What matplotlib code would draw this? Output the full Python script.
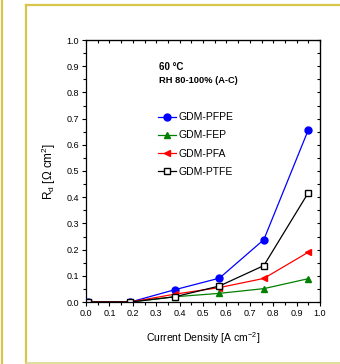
import matplotlib
matplotlib.use("Agg")
import matplotlib.pyplot as plt
from matplotlib.lines import Line2D
from matplotlib.ticker import MultipleLocator

plt.rcParams['font.family'] = ['Liberation Sans', 'DejaVu Sans']
plt.rcParams['mathtext.fontset'] = 'custom'
plt.rcParams['mathtext.rm'] = 'Liberation Sans'

# current density [A cm^-2]
current = [0.01, 0.19, 0.38, 0.57, 0.76, 0.95]

# resistance values
rd_pfpe = [0.0, 0.0, 0.047, 0.091, 0.238, 0.657]
rd_fep = [0.0, 0.0, 0.020, 0.033, 0.051, 0.089]
rd_pfa = [0.0, 0.0, 0.030, 0.055, 0.090, 0.190]
rd_ptfe = [0.0, 0.0, 0.020, 0.061, 0.139, 0.417]

W, H = 340, 364
fig = plt.figure(figsize=(W / 100, H / 100), dpi=100)
ax = fig.add_axes([86 / W, 1 - 302 / H, 234 / W, 262 / H])

ax.plot(current, rd_pfpe, '-o', color='blue', lw=0.9, ms=5, label='GDM-PFPE')
ax.plot(current, rd_fep, '-^', color='green', lw=0.9, ms=5, label='GDM-FEP')
ax.plot(current, rd_pfa, '-<', color='red', lw=0.9, ms=5, label='GDM-PFA')
ax.plot(current, rd_ptfe, '-s', color='black', lw=0.9, ms=5, mfc='white', label='GDM-PTFE')

ax.set_xlim(0, 1.0)
ax.set_ylim(0, 1.0)
ax.xaxis.set_major_locator(MultipleLocator(0.1))
ax.xaxis.set_minor_locator(MultipleLocator(0.05))
ax.yaxis.set_major_locator(MultipleLocator(0.1))
ax.yaxis.set_minor_locator(MultipleLocator(0.05))
ax.tick_params(which='both', direction='out', labelsize=6.5, width=0.8, pad=2)
ax.tick_params(which='major', length=3)
ax.tick_params(which='minor', length=2)
for s in ax.spines.values():
    s.set_linewidth(0.9)

# ticks on top/right pointing inward
axt = ax.secondary_xaxis('top')
axt.xaxis.set_major_locator(MultipleLocator(0.05))
axt.tick_params(direction='in', length=2, labeltop=False, width=0.8)
axr = ax.secondary_yaxis('right')
axr.yaxis.set_major_locator(MultipleLocator(0.05))
axr.tick_params(direction='in', length=2, labelright=False, width=0.8)

ax.set_xlabel('Current Density [A cm$^{-2}$]', fontsize=7.5, labelpad=9)
ax.set_ylabel(r'R$_\mathrm{d}$ [$\Omega$ cm$^2$]', fontsize=8.5, labelpad=6)

ax.text(0.31, 0.898, '60 °C', transform=ax.transAxes, fontsize=7,
        fontweight='bold', va='center')
ax.text(0.31, 0.845, 'RH 80-100% (A-C)', transform=ax.transAxes, fontsize=6.7,
        fontweight='bold', va='center')

ax.legend(loc='upper left', bbox_to_anchor=(0.29, 0.74), frameon=False,
          fontsize=7.5, handlelength=1.7, handletextpad=0.3, labelspacing=0.78,
          borderaxespad=0)

# yellow frame around the figure
frame = '#D8C64A'
fig.add_artist(Line2D([1.5 / W, 1.5 / W], [0, 1], color=frame, lw=1.6))
fig.add_artist(Line2D([26 / W, 26 / W], [0, 1 - 5 / H], color=frame, lw=1.6))
fig.add_artist(Line2D([26 / W, 1], [1 - 5 / H, 1 - 5 / H], color=frame, lw=1.6))
fig.add_artist(Line2D([26 / W, 1], [1 / H, 1 / H], color='#DDD890', lw=1.2))

fig.savefig('out.png', dpi=100)
